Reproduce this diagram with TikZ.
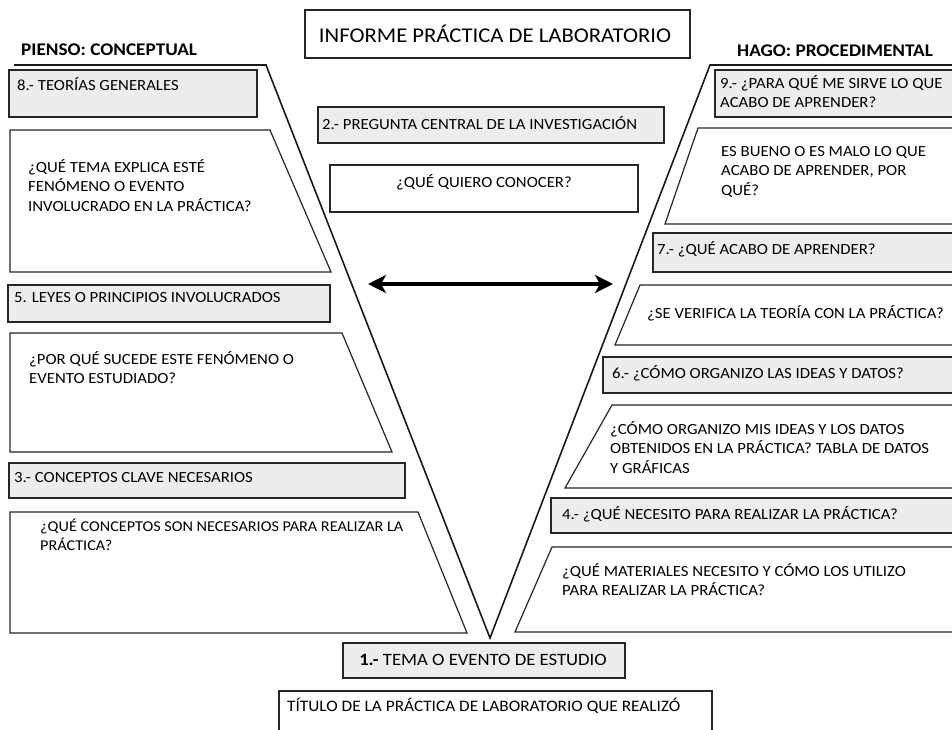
\documentclass[tikz,border=0pt]{standalone}
\usepackage{fontspec}
\setmainfont{Carlito}[FakeStretch=1.08]
\usetikzlibrary{arrows.meta}
\begin{document}
\begin{tikzpicture}[x=1pt,y=-1pt,
    every node/.style={inner sep=0pt},
    txt/.style={anchor=west,text height=10pt,text depth=0pt,font=\fontsize{15.5}{19.5}\selectfont},
    par/.style={anchor=north west,align=left,execute at begin node=\strut,font=\fontsize{15.5}{19.5}\selectfont},
    big/.style={anchor=center,text height=11.5pt,text depth=0pt,font=\fontsize{17.3}{21}\selectfont},
    side/.style={text height=11.5pt,text depth=0pt,font=\fontsize{17.8}{21}\selectfont\bfseries},
    hbox/.style={draw=black!85,line width=1.2pt,fill=black!7},
    tbox/.style={draw=black!85,line width=1.2pt,fill=white},
    vline/.style={draw=black!90,line width=1.6pt}]
    \clip (0,0) rectangle (952,729);
    \fill [white] (0,0) rectangle (952,729);
    \coordinate (ltop) at (14,65);
    \coordinate (lcorner) at (266,65);
    \coordinate (vtip) at (490,638);
    \coordinate (rcorner) at (710,65);
    \coordinate (rtop) at (960,65);
    \draw [vline] (ltop) -- (lcorner) -- (vtip) -- (rcorner) -- (rtop);
    \node [side,anchor=west] (pienso) at (21,50) {PIENSO: CONCEPTUAL};
    \node [side,anchor=center] (hago) at (835,51) {HAGO: PROCEDIMENTAL};
    \draw [tbox] (305,10) rectangle (690,58);
    \node [big,font=\fontsize{21}{25}\selectfont,text height=13pt] (informe) at (495,36) {INFORME PRÁCTICA DE LABORATORIO};
    \draw [hbox] (9,70) rectangle (257,117);
    \node [txt] (t8) at (17,85) {8.- TEORÍAS GENERALES};
    \draw [tbox] (10,130) -- (270,130) -- (331,272) -- (10,272) -- cycle;
    \node [par] (qtema) at (28,159) {¿QUÉ TEMA EXPLICA ESTÉ\\FENÓMENO O EVENTO\\INVOLUCRADO EN LA PRÁCTICA?};
    \draw [hbox] (8,285) rectangle (330,322);
    \node [txt] (t5) at (14,297) {5. LEYES O PRINCIPIOS INVOLUCRADOS};
    \draw [tbox] (10,333) -- (342,333) -- (392,452) -- (10,452) -- cycle;
    \node [par] (qpor) at (29,351) {¿POR QUÉ SUCEDE ESTE FENÓMENO O\\EVENTO ESTUDIADO?};
    \draw [hbox] (9,463) rectangle (405,498);
    \node [txt] (t3) at (14,477) {3.- CONCEPTOS CLAVE NECESARIOS};
    \draw [tbox] (10,512) -- (418,512) -- (467,633) -- (10,633) -- cycle;
    \node [par,font=\fontsize{15}{18.5}\selectfont] (qconc) at (40,519) {¿QUÉ CONCEPTOS SON NECESARIOS PARA REALIZAR LA\\PRÁCTICA?};
    \draw [hbox] (318,107) rectangle (664,143);
    \node [txt] (t2) at (322,124) {2.- PREGUNTA CENTRAL DE LA INVESTIGACIÓN};
    \draw [tbox] (330,165) rectangle (638,212);
    \node [txt,anchor=center] (quiero) at (484,182) {¿QUÉ QUIERO CONOCER?};
    \coordinate (arrL) at (368,284);
    \coordinate (arrR) at (613,284);
    \draw [line width=4.5pt,{Stealth[length=18pt,width=18pt,inset=5pt]}-{Stealth[length=18pt,width=18pt,inset=5pt]}] (arrL) -- (arrR);
    \draw [hbox] (715,70) rectangle (960,117);
    \node [par] (t9) at (720,75) {9.- ¿PARA QUÉ ME SIRVE LO QUE\\ACABO DE APRENDER?};
    \draw [tbox] (698,128) -- (960,128) -- (960,224) -- (665,224) -- cycle;
    \node [par] (qbueno) at (721,146) {ES BUENO O ES MALO LO QUE\\ACABO DE APRENDER, POR\\QUÉ?};
    \draw [hbox] (653,233) rectangle (960,272);
    \node [txt] (t7) at (657,249) {7.- ¿QUÉ ACABO DE APRENDER?};
    \draw [tbox] (640,285) -- (960,285) -- (960,345) -- (615,345) -- cycle;
    \node [txt] (qverif) at (647,313) {¿SE VERIFICA LA TEORÍA CON LA PRÁCTICA?};
    \draw [hbox] (603,357) rectangle (960,393);
    \node [txt] (t6) at (612,373) {6.- ¿CÓMO ORGANIZO LAS IDEAS Y DATOS?};
    \draw [tbox] (612,405) -- (960,405) -- (960,488) -- (565,488) -- cycle;
    \node [par] (qcomo) at (610,421) {¿CÓMO ORGANIZO MIS IDEAS Y LOS DATOS\\OBTENIDOS EN LA PRÁCTICA? TABLA DE DATOS\\Y GRÁFICAS};
    \draw [hbox] (551,498) rectangle (960,533);
    \node [txt] (t4) at (562,514) {4.- ¿QUÉ NECESITO PARA REALIZAR LA PRÁCTICA?};
    \draw [tbox] (552,547) -- (960,547) -- (960,632) -- (515,632) -- cycle;
    \node [par] (qmat) at (562,563) {¿QUÉ MATERIALES NECESITO Y CÓMO LOS UTILIZO\\PARA REALIZAR LA PRÁCTICA?};
    \draw [hbox] (343,643) rectangle (625,678);
    \node [big] (t1) at (483,660) {\textbf{1.-} TEMA O EVENTO DE ESTUDIO};
    \draw [tbox] (279,691) rectangle (712,745);
    \node [txt,font=\fontsize{16}{19.5}\selectfont] (titulo) at (287,706) {TÍTULO DE LA PRÁCTICA DE LABORATORIO QUE REALIZÓ};
\end{tikzpicture}
\end{document}
